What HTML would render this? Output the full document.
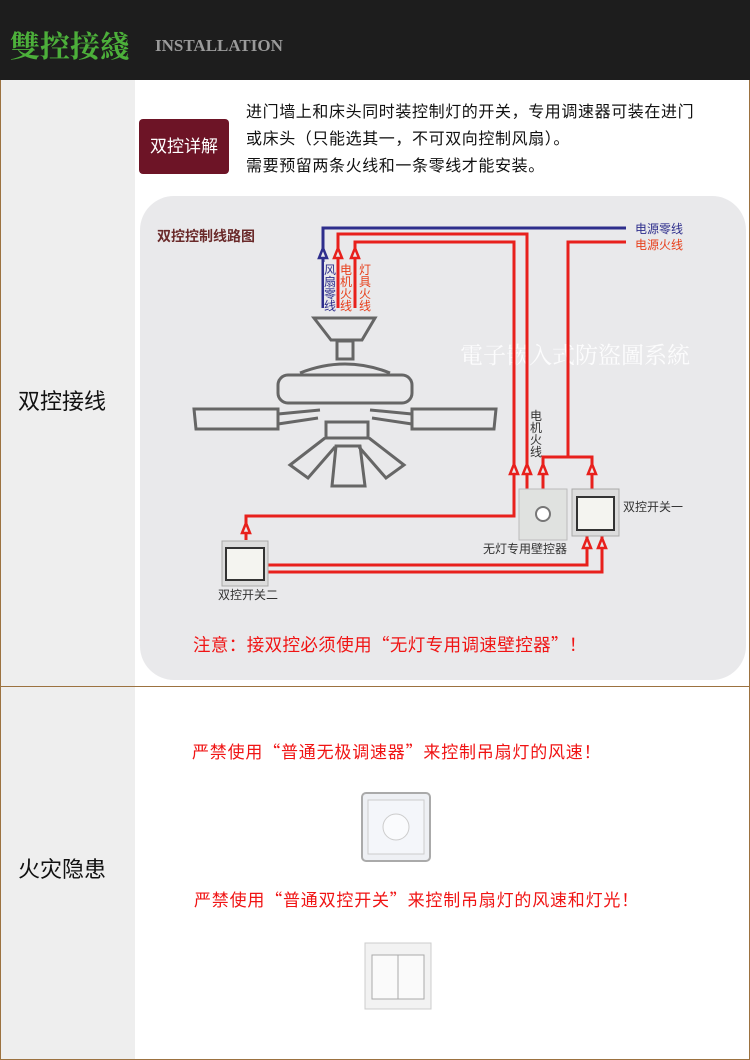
<!DOCTYPE html>
<html><head><meta charset="utf-8"><style>
body{margin:0;width:750px;height:1060px;position:relative;overflow:hidden;background:#fff;font-family:"Liberation Sans","Noto Sans CJK SC",sans-serif}
.a{position:absolute;white-space:nowrap}
.cjk{font-family:"Noto Sans CJK SC",sans-serif}
</style></head><body>
<div class="a" style="left:0;top:0;width:750px;height:80px;background:#1d1d1d"></div>
<div class="a" style="left:10px;top:22px;font-size:30px;color:#4caf3a;font-family:'Noto Serif CJK SC',serif;font-weight:bold">雙控接綫</div>
<div class="a" style="left:155px;top:36px;font-size:17px;color:#9a9a9a;font-family:'Liberation Serif',serif;font-weight:bold">INSTALLATION</div>
<div class="a" style="left:0;top:80px;width:135px;height:980px;background:#eeeeee"></div>
<div class="a" style="left:0;top:80px;width:1px;height:980px;background:#9c7240"></div>
<div class="a" style="left:749px;top:80px;width:1px;height:980px;background:#9c7240"></div>
<div class="a" style="left:0;top:686px;width:750px;height:1px;background:#9c7240"></div>
<div class="a" style="left:0;top:1059px;width:750px;height:1px;background:#9c7240"></div>
<div class="a" style="left:18px;top:384px;font-size:22px;color:#111">双控接线</div>
<div class="a" style="left:18px;top:852px;font-size:22px;color:#111">火灾隐患</div>
<div class="a" style="left:139px;top:119px;width:90px;height:55px;background:#6d1426;border-radius:4px;color:#fff;font-size:17px;line-height:55px;text-align:center">双控详解</div>
<div class="a cjk" style="left:246px;top:97px;font-size:16px;color:#111;line-height:27px;letter-spacing:0.6px">进门墙上和床头同时装控制灯的开关，专用调速器可装在进门<br>或床头（只能选其一，不可双向控制风扇）。<br>需要预留两条火线和一条零线才能安装。</div>
<svg class="a" style="left:0;top:0" width="750" height="1060">
<rect x="140" y="196" width="606" height="484" rx="34" fill="#e9e9eb"/>
<text x="157" y="241" font-size="14" fill="#6a2a2a" font-weight="bold">双控控制线路图</text>
<text x="460" y="363" font-size="23" fill="#fff" font-family="'Noto Serif CJK SC',serif" opacity="0.9">電子嵌入式防盜圖系統</text>
<g fill="none" stroke="#666" stroke-width="3">
<path d="M314 318H375L362 340H331Z"/>
<rect x="337" y="341" width="16" height="18"/>
<path d="M300 373Q345 355 390 373" />
<rect x="278" y="375" width="134" height="28" rx="10"/>
<path d="M194 409H278V429H196Z"/><path d="M412 409H496L494 429H412Z"/>
<path d="M278 414L320 410M278 424L318 418M412 414L370 410M412 424L372 418"/>
<rect x="326" y="422" width="42" height="16"/>
<path d="M336 446H360L365 486H332Z"/>
<path d="M325 438L290 465L308 478L335 447"/>
<path d="M369 438L404 465L386 478L359 447"/>
</g>
<g fill="none" stroke-width="3">
<path d="M323 308V228H626" stroke="#2e2e8c"/>
<g stroke="#e8201c">
<path d="M338 308V234H527V490"/>
<path d="M355 308V242H514V516H246V540"/>
<path d="M626 242H568V457"/>
<path d="M543 490V457H592V489"/>
<path d="M268 565H587V536M268 572H602V536"/>
</g>
</g>
<g stroke-width="2.5" fill="#e9e9eb">
<path d="M319 258L323 248L327 258Z" stroke="#2e2e8c"/>
<g stroke="#e8201c"><path d="M334 258L338 248L342 258Z"/><path d="M351 258L355 248L359 258Z"/>
<path d="M510 474L514 464L518 474Z"/><path d="M523 474L527 464L531 474Z"/><path d="M539 474L543 464L547 474Z"/><path d="M588 474L592 464L596 474Z"/>
<path d="M242 533L246 523L250 533Z"/><path d="M583 548L587 538L591 548Z"/><path d="M598 548L602 538L606 548Z"/></g>
</g>
<g font-size="12"><g fill="#2e2e8c"><rect x="324" y="262" width="12" height="50" fill="#e9e9eb"/><text x="324" y="274">风</text><text x="324" y="286">扇</text><text x="324" y="298">零</text><text x="324" y="310">线</text></g>
<g fill="#e8401c"><rect x="340" y="262" width="12" height="50" fill="#e9e9eb"/><text x="340" y="274">电</text><text x="340" y="286">机</text><text x="340" y="298">火</text><text x="340" y="310">线</text>
<text x="359" y="274">灯</text><text x="359" y="286">具</text><text x="359" y="298">火</text><text x="359" y="310">线</text></g>
<text x="530" y="420" fill="#333">电</text><text x="530" y="432" fill="#333">机</text><text x="530" y="444" fill="#333">火</text><text x="530" y="456" fill="#333">线</text>
<text x="635" y="233" fill="#2e2e8c">电源零线</text><text x="635" y="249" fill="#e8401c">电源火线</text>
<text x="623" y="511" fill="#333">双控开关一</text><text x="483" y="553" fill="#333">无灯专用壁控器</text><text x="218" y="599" fill="#333">双控开关二</text></g>
<rect x="519" y="489" width="48" height="51" fill="#e0e2e0" stroke="#bbb"/>
<circle cx="543" cy="514" r="7" fill="#fff" stroke="#777" stroke-width="2"/>
<rect x="572" y="489" width="47" height="47" fill="#dcdcdc" stroke="#aaa"/>
<rect x="577" y="497" width="37" height="33" fill="#f4f4f0" stroke="#333" stroke-width="2"/>
<rect x="222" y="541" width="46" height="45" fill="#dcdcdc" stroke="#aaa"/>
<rect x="226" y="548" width="38" height="32" fill="#f4f4f0" stroke="#333" stroke-width="2"/>
<g font-family="'Noto Sans CJK SC',sans-serif" fill="#f01414">
<text x="193" y="651" font-size="17.5" letter-spacing="0.4">注意：接双控必须使用“无灯专用调速壁控器”！</text>
<text x="192" y="758" font-size="17" letter-spacing="0.8">严禁使用“普通无极调速器”来控制吊扇灯的风速！</text>
<text x="194" y="906" font-size="17" letter-spacing="0.8">严禁使用“普通双控开关”来控制吊扇灯的风速和灯光！</text>
</g>
<rect x="362" y="793" width="68" height="68" rx="4" fill="#eef0f4" stroke="#aaa" stroke-width="2"/>
<rect x="368" y="800" width="56" height="54" fill="#f4f6fa" stroke="#ccc"/>
<circle cx="396" cy="827" r="13" fill="#fafbfd" stroke="#ccc"/>
<rect x="365" y="943" width="66" height="66" fill="#f2f2f2" stroke="#ccc"/>
<rect x="372" y="955" width="52" height="44" fill="#fafafa" stroke="#aaa"/>
<line x1="398" y1="955" x2="398" y2="999" stroke="#aaa"/>
</svg>
</body></html>
